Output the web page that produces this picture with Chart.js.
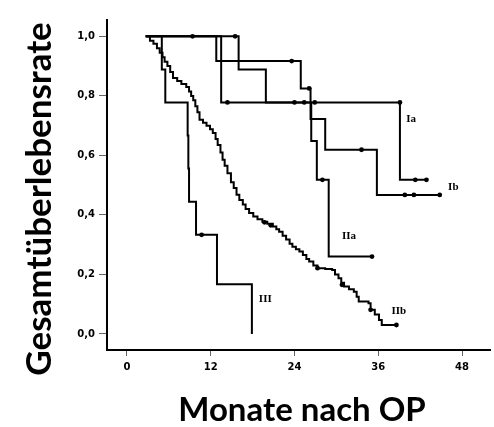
<!DOCTYPE html>
<html>
<head>
<meta charset="utf-8">
<script src="https://cdn.jsdelivr.net/npm/chart.js@4"></script>
<style>
  html, body { margin: 0; padding: 0; background: #fff; }
  #wrap { width: 494px; height: 427px; }
</style>
</head>
<body>
<div id="wrap"><canvas id="km" width="494" height="427"></canvas></div>
<script>
// Kaplan-Meier steps (months, survival)
const monthsIa = [2.7, 13.5, 39.1, 42.9];
const survIa = [1.0, 0.778, 0.518, 0.518];
const censMonthsIa = [14.4, 24.0, 25.4, 26.9, 39.1, 41.3, 42.9];
const censSurvIa = [0.778, 0.778, 0.778, 0.778, 0.778, 0.518, 0.518];

const monthsIb = [2.7, 12.8, 24.9, 26.3, 28.4, 35.8, 44.8];
const survIb = [1.0, 0.917, 0.825, 0.722, 0.619, 0.467, 0.467];
const censMonthsIb = [23.6, 26.1, 33.6, 39.8, 41.1, 44.8];
const censSurvIb = [0.917, 0.825, 0.619, 0.467, 0.467, 0.467];

const monthsIIa = [2.7, 16.0, 19.9, 26.4, 27.2, 28.9, 35.1];
const survIIa = [1.0, 0.889, 0.778, 0.648, 0.518, 0.26, 0.26];
const censMonthsIIa = [9.4, 15.5, 28.0, 35.1];
const censSurvIIa = [1.0, 1.0, 0.518, 0.26];

const monthsIIb = [2.7, 3.3, 3.8, 4.3, 4.7, 5.1, 5.4, 5.8, 6.2, 6.6, 7.2, 7.8, 8.5, 8.9, 9.2, 9.5,
  9.8, 10.1, 10.4, 10.9, 11.4, 11.9, 12.3, 12.7, 13.0, 13.4, 13.7, 14.0, 14.4, 14.9, 15.3, 15.7,
  16.1, 16.6, 17.0, 17.5, 18.1, 18.7, 19.4, 20.1, 20.9, 21.4, 21.8, 22.3, 22.8, 23.3, 23.7, 24.2,
  24.7, 25.2, 25.7, 26.1, 26.7, 27.3, 28.4, 29.4, 29.8, 30.3, 30.7, 31.1, 31.8, 32.5, 32.9, 33.2,
  34.6, 34.9, 35.5, 36.1, 36.5, 38.6];
const survIIb = [1.0, 0.985, 0.975, 0.96, 0.945, 0.93, 0.915, 0.9, 0.88, 0.86, 0.85, 0.84, 0.83, 0.815, 0.8, 0.785,
  0.765, 0.745, 0.72, 0.71, 0.7, 0.688, 0.675, 0.655, 0.635, 0.61, 0.585, 0.565, 0.54, 0.51, 0.49, 0.468,
  0.45, 0.435, 0.42, 0.406, 0.395, 0.385, 0.377, 0.37, 0.361, 0.352, 0.343, 0.33, 0.317, 0.303, 0.293, 0.285,
  0.277, 0.265, 0.252, 0.243, 0.23, 0.221, 0.218, 0.215, 0.2, 0.187, 0.172, 0.159, 0.15, 0.142, 0.125, 0.109,
  0.103, 0.081, 0.065, 0.047, 0.03, 0.03];
const censMonthsIIb = [19.7, 20.6, 27.3, 30.8, 34.9, 38.6];
const censSurvIIb = [0.375, 0.365, 0.221, 0.165, 0.081, 0.03];

const monthsIII = [2.7, 5.0, 5.5, 8.7, 8.8, 8.9, 9.9, 12.9, 17.9];
const survIII = [1.0, 0.889, 0.778, 0.667, 0.556, 0.444, 0.333, 0.167, 0.0];
const censMonthsIII = [10.7];
const censSurvIII = [0.333];

const xTickValues = [0, 12, 24, 36, 48];
const yTickValues = [0, 0.2, 0.4, 0.6, 0.8, 1.0];

// group labels next to the curves
const groupNames = ["Ia", "Ib", "IIa", "IIb", "III"];
const groupLabelAt = [[40.0, 0.723], [46.0, 0.494], [30.8, 0.327], [37.9, 0.075], [18.9, 0.118]];

function pts(xs, ys) {
  return xs.map((x, i) => ({ x: x, y: ys[i] }));
}

function curve(xs, ys) {
  return {
    type: "line",
    data: pts(xs, ys),
    stepped: "before",
    borderColor: "#000",
    borderWidth: 2,
    pointRadius: 0,
    fill: false
  };
}

function censored(xs, ys) {
  return {
    type: "line",
    data: pts(xs, ys),
    showLine: false,
    pointRadius: 2.4,
    pointBackgroundColor: "#000",
    pointBorderColor: "#000",
    pointBorderWidth: 0
  };
}

// draws the group labels and both axis titles
const textPlugin = {
  id: "texts",
  afterDraw(chart) {
    const ctx = chart.ctx;
    const xs = chart.scales.x;
    const ys = chart.scales.y;
    ctx.save();
    ctx.fillStyle = "#000";
    ctx.font = "bold 11px 'Liberation Serif'";
    ctx.textAlign = "left";
    ctx.textBaseline = "middle";
    groupNames.forEach((name, i) => {
      ctx.fillText(name, xs.getPixelForValue(groupLabelAt[i][0]), ys.getPixelForValue(groupLabelAt[i][1]));
    });

    ctx.textAlign = "center";
    ctx.textBaseline = "alphabetic";
    ctx.font = "bold 33px Lato";
    ctx.fillText("Monate nach OP", 302, 421);

    ctx.font = "bold 35px Lato";
    ctx.translate(51, 199);
    ctx.rotate(-Math.PI / 2);
    ctx.fillText("Gesamtüberlebensrate", 0, 0);
    ctx.restore();
  }
};

new Chart(document.getElementById("km"), {
  type: "line",
  data: {
    datasets: [
      curve(monthsIa, survIa), censored(censMonthsIa, censSurvIa),
      curve(monthsIb, survIb), censored(censMonthsIb, censSurvIb),
      curve(monthsIIa, survIIa), censored(censMonthsIIa, censSurvIIa),
      curve(monthsIIb, survIIb), censored(censMonthsIIb, censSurvIIb),
      curve(monthsIII, survIII), censored(censMonthsIII, censSurvIII)
    ]
  },
  options: {
    responsive: false,
    devicePixelRatio: 1,
    animation: false,
    layout: { padding: { left: 0, right: 2, top: 20, bottom: 0 } },
    plugins: {
      legend: { display: false },
      tooltip: { enabled: false }
    },
    scales: {
      x: {
        type: "linear",
        min: -2.85,
        max: 52,
        afterBuildTicks: (scale) => { scale.ticks = xTickValues.map(v => ({ value: v })); },
        afterFit: (scale) => { scale.height = 77; },
        ticks: {
          color: "#000",
          font: { family: "'DejaVu Sans'", weight: "bold", size: 10 },
          padding: 5,
          maxRotation: 0
        },
        grid: { drawOnChartArea: false, drawTicks: true, tickLength: 6, color: "#666", lineWidth: 1 },
        border: { display: true, color: "#000", width: 2 }
      },
      y: {
        type: "linear",
        min: -0.054,
        max: 1.055,
        afterBuildTicks: (scale) => { scale.ticks = yTickValues.map(v => ({ value: v })); },
        afterFit: (scale) => { scale.width = 107; },
        ticks: {
          color: "#000",
          font: { family: "'DejaVu Sans'", weight: "bold", size: 10 },
          padding: 4,
          callback: (v) => v.toFixed(1).replace(".", ",")
        },
        grid: { drawOnChartArea: false, drawTicks: true, tickLength: 8, color: "#666", lineWidth: 1 },
        border: { display: true, color: "#000", width: 2 }
      }
    }
  },
  plugins: [textPlugin]
});
</script>
</body>
</html>
